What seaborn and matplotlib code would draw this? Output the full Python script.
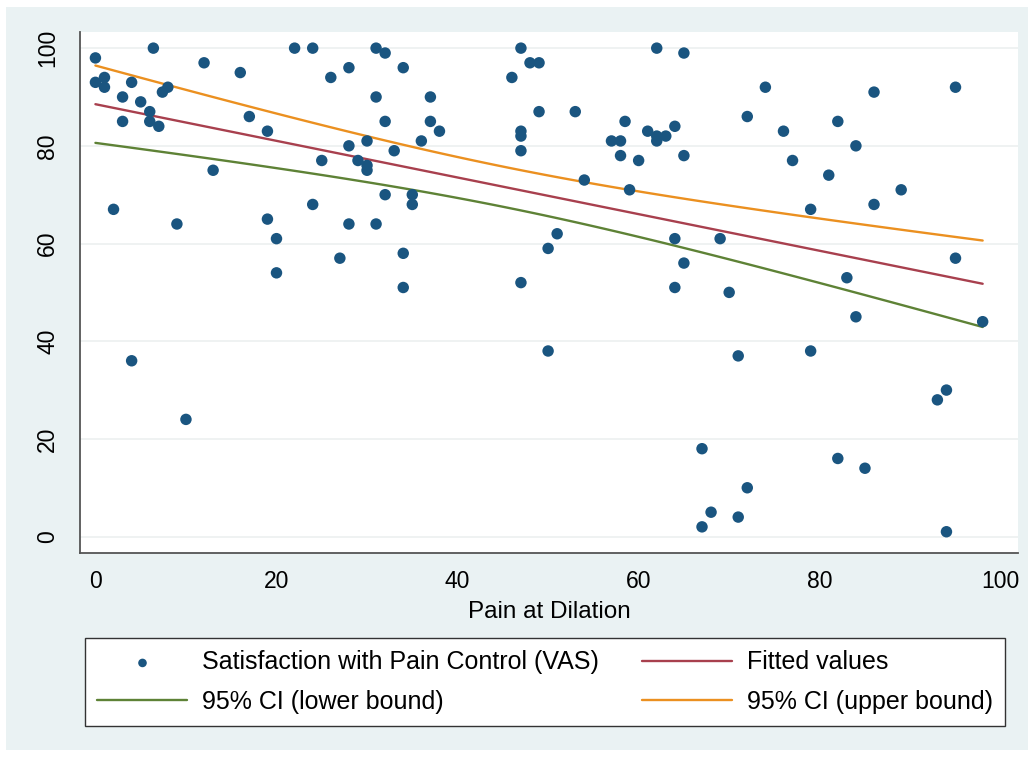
import numpy as np
import pandas as pd
import matplotlib
matplotlib.use("Agg")
import matplotlib.pyplot as plt
import seaborn as sns
from matplotlib.patches import Rectangle

# values
pain = [0, 6.4, 12, 16, 22, 24, 0, 1, 1, 4, 3, 5, 6, 7.4, 8, 3, 6, 7, 17, 19,
        25, 13, 2, 9, 19, 24, 31, 32, 28, 26, 34, 31, 37, 32, 37, 38, 36, 30, 28, 33,
        29, 30, 30, 32, 35, 35, 28, 31, 46, 47, 48, 49, 49, 47, 47, 47, 53, 54, 57, 58,
        58, 58.5, 59, 60, 61, 62, 62, 63, 64, 65, 62, 65, 72, 74, 86, 95, 76, 82, 84, 77,
        81, 89, 86, 79, 20, 20, 27, 34, 34, 47, 50, 51, 50, 4, 10, 64, 69, 65, 64, 70,
        71, 79, 83, 84, 95, 98, 93, 94, 94, 67, 82, 85, 72, 68, 71, 67]
satisfaction = [98, 100, 97, 95, 100, 100, 93, 94, 92, 93, 90, 89, 87, 91, 92, 85, 85, 84, 86, 83,
                77, 75, 67, 64, 65, 68, 100, 99, 96, 94, 96, 90, 90, 85, 85, 83, 81, 81, 80, 79,
                77, 76, 75, 70, 70, 68, 64, 64, 94, 100, 97, 97, 87, 83, 82, 79, 87, 73, 81, 81,
                78, 85, 71, 77, 83, 82, 81, 82, 84, 78, 100, 99, 86, 92, 91, 92, 83, 85, 80, 77,
                74, 71, 68, 67, 61, 54, 57, 58, 51, 52, 59, 62, 38, 36, 24, 61, 61, 56, 51, 50,
                37, 38, 53, 45, 57, 44, 28, 30, 1, 18, 16, 14, 10, 5, 4, 2]

labels = ["Satisfaction with Pain Control (VAS)", "Fitted values",
          "95% CI (lower bound)", "95% CI (upper bound)"]

df = pd.DataFrame({"pain": pain, "sat": satisfaction})
x = df["pain"].to_numpy(dtype=float)
y = df["sat"].to_numpy(dtype=float)
n = len(x)

# linear fit with 95% CI of the mean (like Stata lfitci)
slope, intercept = np.polyfit(x, y, 1)
resid = y - (intercept + slope * x)
s = np.sqrt(np.sum(resid**2) / (n - 2))
sxx = np.sum((x - x.mean())**2)
t_crit = 1.981  # t(0.975, n-2)
grid = np.linspace(x.min(), x.max(), 100)
fit = intercept + slope * grid
se = s * np.sqrt(1.0 / n + (grid - x.mean())**2 / sxx)
lines = pd.DataFrame({"x": grid, "fit": fit, "lo": fit - t_crit * se, "hi": fit + t_crit * se})

sns.set_theme(style="white")
plt.rcParams["font.family"] = ["Liberation Sans", "DejaVu Sans"]

fig = plt.figure(figsize=(10.34, 7.57), dpi=100)
fig.patch.set_facecolor("white")
fig.patches.append(Rectangle((6 / 1034, 7 / 757), 1022 / 1034, 743 / 757,
                             transform=fig.transFigure, facecolor="#EAF2F3",
                             edgecolor="none", zorder=-5))

ax = fig.add_axes([0.0774, 0.2695, 0.9071, 0.6882])
ax.set_facecolor("white")

navy = "#1A5580"
sns.scatterplot(x=x, y=y, ax=ax, s=68, color=navy, edgecolor="none",
                label=labels[0], zorder=3)
sns.lineplot(data=lines, x="x", y="fit", ax=ax, color="#A8404E", lw=1.7, label=labels[1])
sns.lineplot(data=lines, x="x", y="lo", ax=ax, color="#5E8236", lw=1.7, label=labels[2])
sns.lineplot(data=lines, x="x", y="hi", ax=ax, color="#EB9020", lw=1.7, label=labels[3])

ax.set_xlim(-1.7, 101.9)
ax.set_ylim(-3.35, 103.3)
ax.set_xticks([0, 20, 40, 60, 80, 100])
ax.set_yticks([0, 20, 40, 60, 80, 100])
ax.yaxis.grid(True, color="#EEF1F1", lw=1.3)
ax.set_axisbelow(True)

for side in ["top", "right"]:
    ax.spines[side].set_visible(False)
for side in ["left", "bottom"]:
    ax.spines[side].set_color("#555555")
    ax.spines[side].set_linewidth(1.3)

ax.tick_params(axis="both", direction="out", length=8, width=1.2, color="#555555",
               labelsize=16.5, labelcolor="black")
ax.tick_params(axis="y", pad=7)
ax.tick_params(axis="x", pad=4)
for lab in ax.get_yticklabels():
    lab.set_rotation(90)
    lab.set_va("center")

ax.set_xlabel("Pain at Dilation", fontsize=17.5, labelpad=6, color="black")
ax.set_ylabel("")

handles, labs = ax.get_legend_handles_labels()
ax.get_legend().remove()
order = [0, 2, 1, 3]
leg = fig.legend([handles[i] for i in order], [labs[i] for i in order],
                 loc="upper left", bbox_to_anchor=(0.0822, 0.0462, 0.89, 0.111),
                 mode="expand", ncol=2, fontsize=18, frameon=True, fancybox=False,
                 framealpha=1, borderaxespad=0, labelcolor="black",
                 handlelength=3.6, handletextpad=0.6, borderpad=0.5, labelspacing=0.62,
                 markerscale=0.75)
leg.get_frame().set_edgecolor("#333333")
leg.get_frame().set_linewidth(1.0)
leg.get_frame().set_facecolor("white")

plt.savefig("out.png", dpi=100, facecolor=fig.get_facecolor())
